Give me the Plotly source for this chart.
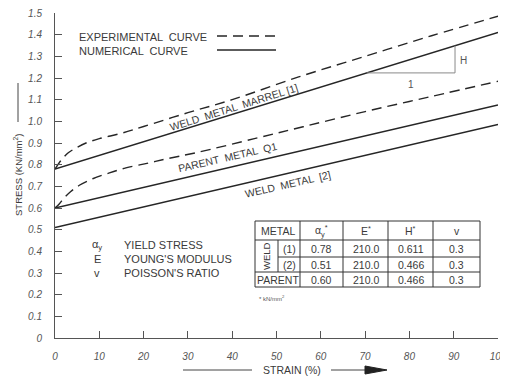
import plotly.graph_objects as go

# ---------------- data ----------------
strain_num = [0, 100]
weld1_num = [0.78, 1.41]
parent_num = [0.60, 1.075]
weld2_num = [0.51, 0.985]

strain_w1_exp = [0, 1, 2, 3, 5, 7, 10, 15, 20, 30, 40, 55, 70, 85, 100]
weld1_exp = [0.78, 0.81, 0.835, 0.855, 0.88, 0.90, 0.92, 0.945, 0.976, 1.04, 1.10, 1.205, 1.30, 1.395, 1.485]

strain_p_exp = [0, 1, 2, 3.5, 5.5, 8.5, 12, 16, 21, 25, 32, 45, 56, 70, 85, 100]
parent_exp = [0.60, 0.62, 0.645, 0.675, 0.705, 0.735, 0.76, 0.785, 0.807, 0.826, 0.856, 0.92, 0.975, 1.045, 1.115, 1.185]

tri_x = [70.4, 90.3, 90.3]
tri_y = [1.2235, 1.2235, 1.349]

x_ticks = [0, 10, 20, 30, 40, 50, 60, 70, 80, 90, 100]
y_ticks = [0, 0.1, 0.2, 0.3, 0.4, 0.5, 0.6, 0.7, 0.8, 0.9, 1.0, 1.1, 1.2, 1.3, 1.4, 1.5]
y_ticktext = ["0", "0.1", "0.2", "0.3", "0.4", "0.5", "0.6", "0.7", "0.8", "0.9",
              "1.0", "1.1", "1.2", "1.3", "1.4", "1.5"]

table_header = ["METAL", "α<sub>y</sub><sup>*</sup>", "E<sup>*</sup>", "H<sup>*</sup>", "v"]
table_rows = ["(1)", "(2)", "PARENT"]
yield_vals = ["0.78", "0.51", "0.60"]
E_vals = ["210.0", "210.0", "210.0"]
H_vals = ["0.611", "0.466", "0.466"]
nu_vals = ["0.3", "0.3", "0.3"]

sym_list = ["α<sub>y</sub>", "E", "v"]
sym_desc = ["YIELD STRESS", "YOUNG'S MODULUS", "POISSON'S RATIO"]

# ---------------- layout helpers ----------------
# page is 508x379; the html body adds an 8px margin, so the figure is 500x371
OFF = 8
W, H = 508 - OFF, 379 - OFF
PL, PR, PT, PB = 55, 498, 13, 338          # plot area in page pixels
L, T = PL - OFF, PT - OFF
R, B = W - (PR - OFF), H - (PB - OFF)
PW, PH = PR - PL, PB - PT


def px(x):
    return (x - PL) / PW


def py(y):
    return (PB - y) / PH


INK = "#262626"
TXT = "#3a3a3a"
FONT = "Liberation Sans"

fig = go.Figure()

dash = "10px,6px"
fig.add_trace(go.Scatter(x=strain_w1_exp, y=weld1_exp, mode="lines",
                         line=dict(color=INK, width=1.4, dash=dash), line_shape="spline"))
fig.add_trace(go.Scatter(x=strain_p_exp, y=parent_exp, mode="lines",
                         line=dict(color=INK, width=1.4, dash=dash), line_shape="spline"))
for yy in (weld1_num, parent_num, weld2_num):
    fig.add_trace(go.Scatter(x=strain_num, y=yy, mode="lines",
                             line=dict(color=INK, width=1.5)))
fig.add_trace(go.Scatter(x=tri_x, y=tri_y, mode="lines",
                         line=dict(color="#8a8a8a", width=1)))

ann = []
shapes = []


def text(x, y, s, size=11, ref="paper", xa="center", angle=0, color=TXT):
    ann.append(dict(x=x, y=y, xref="x" if ref == "data" else "paper",
                    yref="y" if ref == "data" else "paper", text=s,
                    xanchor=xa, yanchor="middle", textangle=angle, showarrow=False,
                    font=dict(size=size, color=color, family=FONT)))


# curve labels
text(40.5, 1.064, "WELD  METAL  MARREL [1]", size=10.5, ref="data", angle=-17.5)
text(39.0, 0.835, "PARENT  METAL  Q1", size=10.5, ref="data", angle=-13)
text(52.6, 0.71, "WELD  METAL  [2]", size=10.5, ref="data", angle=-13)
text(92.3, 1.28, "H", size=10, ref="data", color="#555")
text(80.4, 1.172, "1", size=10, ref="data", color="#555")

# legend
text(px(77), py(37), "EXPERIMENTAL  CURVE", xa="left")
text(px(77), py(51), "NUMERICAL  CURVE", xa="left")
shapes.append(dict(type="line", xref="paper", yref="paper", x0=px(217), x1=px(276),
                   y0=py(36), y1=py(36), line=dict(color=INK, width=1.4, dash=dash)))
shapes.append(dict(type="line", xref="paper", yref="paper", x0=px(217), x1=px(276),
                   y0=py(50), y1=py(50), line=dict(color=INK, width=1.5)))

# symbol definitions
for i, (s, d) in enumerate(zip(sym_list, sym_desc)):
    yy = [245, 259, 273][i]
    text(px(97), py(yy), s)
    text(px(122), py(yy), d, xa="left")

# table
cols = [255, 278, 300, 343, 388, 433, 480]
rows = [221, 240, 257, 272, 287]
tl = dict(color="#333", width=1)
for yv, x0 in zip(rows, [255, 255, 278, 255, 255]):
    shapes.append(dict(type="line", xref="paper", yref="paper", x0=px(x0), x1=px(480),
                       y0=py(yv), y1=py(yv), line=tl))
for xv in cols:
    if xv == 278:
        y0, y1 = 240, 272
    else:
        y0, y1 = 221, 287
    shapes.append(dict(type="line", xref="paper", yref="paper", x0=px(xv), x1=px(xv),
                       y0=py(y0), y1=py(y1), line=tl))

hdr_x = [277.5, 321.5, 365.5, 410.5, 456.5]
for hx, ht in zip(hdr_x, table_header):
    text(px(hx), py(230.5), ht, size=10.5)
row_y = [248.5, 264.5, 279.5]
for i, ry in enumerate(row_y):
    lx = 289 if i < 2 else 277.5
    text(px(lx), py(ry), table_rows[i], size=10.5)
    for cx, vals in zip(hdr_x[1:], [yield_vals, E_vals, H_vals, nu_vals]):
        text(px(cx), py(ry), vals[i], size=10.5)
text(px(266.5), py(256.5), "WELD", size=9.5, angle=-90)
text(px(257), py(298), "* kN/mm<sup>2</sup>", size=6, xa="left", color="#555")

# axis titles
text(px(18), py(175), "STRESS (KN/mm<sup>2</sup>)", size=9.5, angle=-90)
shapes.append(dict(type="line", xref="paper", yref="paper", x0=px(18), x1=px(18),
                   y0=py(83), y1=py(122), line=dict(color="#444", width=1)))
text(px(291.5), py(370), "STRAIN (%)", size=10.5)
shapes.append(dict(type="line", xref="paper", yref="paper", x0=px(183), x1=px(252),
                   y0=py(370), y1=py(370), line=dict(color="#444", width=1)))
shapes.append(dict(type="line", xref="paper", yref="paper", x0=px(331), x1=px(368),
                   y0=py(370), y1=py(370), line=dict(color="#444", width=1)))
ax0, ax1 = px(365), px(387)
ay0, ay1, aym = py(366), py(374), py(370)
shapes.append(dict(type="path", xref="paper", yref="paper",
                   path=f"M {ax0} {ay0} L {ax1} {aym} L {ax0} {ay1} Z",
                   fillcolor="#222", line=dict(color="#222", width=1)))

fig.update_layout(
    width=W, height=H, template="none",
    margin=dict(l=L, r=R, t=T, b=B, pad=0),
    paper_bgcolor="white", plot_bgcolor="white",
    showlegend=False, annotations=ann, shapes=shapes,
    xaxis=dict(range=[0, 100], tickvals=x_ticks, ticks="inside", ticklen=7,
               tickcolor="#555", showline=True, linecolor="#555", linewidth=1,
               showgrid=False, zeroline=False, automargin=False,
               ticklabelstandoff=9, ticklabeloverflow="allow",
               tickfont=dict(size=10, color="#555", family=FONT, style="italic")),
    yaxis=dict(range=[0, 1.5], tickvals=y_ticks, ticktext=y_ticktext, ticks="inside",
               ticklen=7, tickcolor="#555", showline=True, linecolor="#555", linewidth=1,
               showgrid=False, zeroline=False, automargin=False,
               ticklabelstandoff=10, ticklabeloverflow="allow",
               tickfont=dict(size=10, color="#555", family=FONT, style="italic")),
)

fig.write_html("out.html")
